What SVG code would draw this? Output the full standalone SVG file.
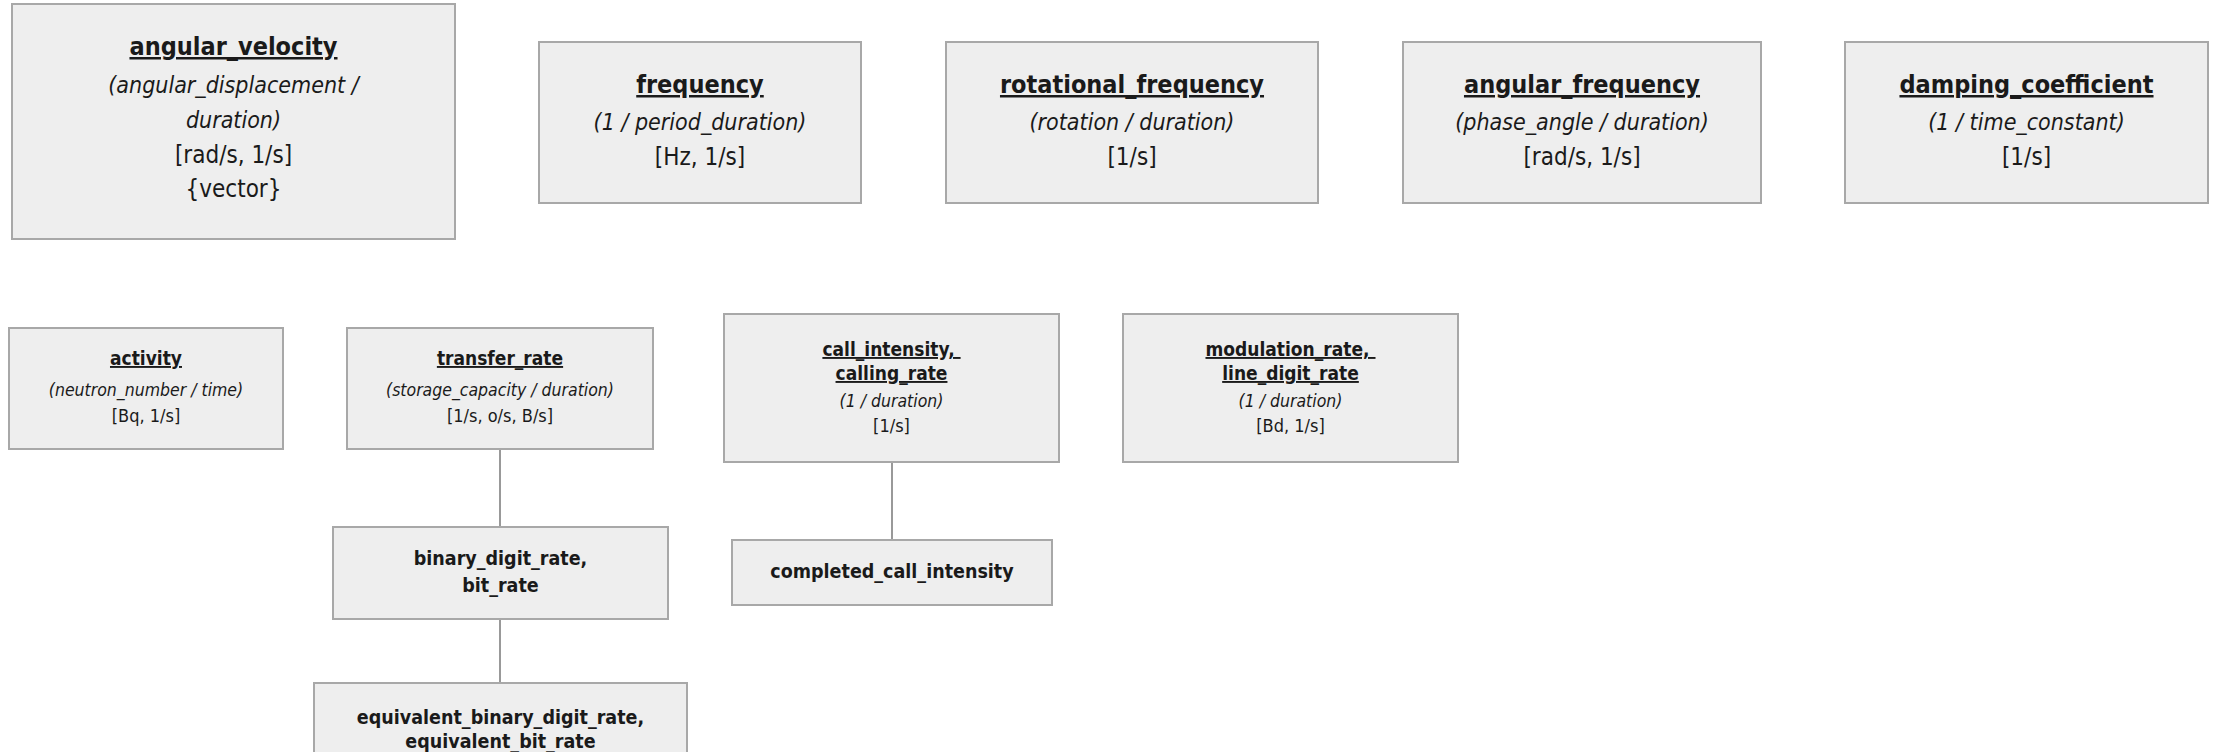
<svg xmlns="http://www.w3.org/2000/svg" width="2222" height="752" viewBox="0 0 2222 752">
  <style>
    .box { fill: #eeeeee; stroke: #a8a8a8; stroke-width: 2; }
    .edge { stroke: #999999; stroke-width: 2; fill: none; }
    text { font-family: "DejaVu Sans Condensed", "DejaVu Sans", sans-serif; fill: #1a1a1a; text-anchor: middle; }
    .t1 { font-size: 25px; font-weight: bold; text-decoration: underline; }
    .i1 { font-size: 23px; font-style: italic; }
    .u1 { font-size: 24px; }
    .t2 { font-size: 19px; font-weight: bold; text-decoration: underline; }
    .i2 { font-size: 17.5px; font-style: italic; }
    .u2 { font-size: 18px; }
    .b2 { font-size: 19.5px; font-weight: bold; }
  </style>
  <rect width="2222" height="752" fill="#ffffff"/>

  <g id="connectors">
    <line class="edge" x1="500" y1="449" x2="500" y2="527"/>
    <line class="edge" x1="500" y1="619" x2="500" y2="683"/>
    <line class="edge" x1="892" y1="462" x2="892" y2="540"/>
  </g>

  <g id="angular_velocity">
    <rect class="box" x="12" y="4" width="443" height="235"/>
    <text class="t1" x="233.5" y="55">angular_velocity</text>
    <text class="i1" x="233.5" y="93">(angular_displacement /</text>
    <text class="i1" x="233.5" y="128">duration)</text>
    <text class="u1" x="233.5" y="163">[rad/s, 1/s]</text>
    <text class="u1" x="233.5" y="197">{vector}</text>
  </g>

  <g id="frequency">
    <rect class="box" x="539" y="42" width="322" height="161"/>
    <text class="t1" x="700" y="93">frequency</text>
    <text class="i1" x="700" y="130">(1 / period_duration)</text>
    <text class="u1" x="700" y="165">[Hz, 1/s]</text>
  </g>

  <g id="rotational_frequency">
    <rect class="box" x="946" y="42" width="372" height="161"/>
    <text class="t1" x="1132" y="93">rotational_frequency</text>
    <text class="i1" x="1132" y="130">(rotation / duration)</text>
    <text class="u1" x="1132" y="165">[1/s]</text>
  </g>

  <g id="angular_frequency">
    <rect class="box" x="1403" y="42" width="358" height="161"/>
    <text class="t1" x="1582" y="93">angular_frequency</text>
    <text class="i1" x="1582" y="130">(phase_angle / duration)</text>
    <text class="u1" x="1582" y="165">[rad/s, 1/s]</text>
  </g>

  <g id="damping_coefficient">
    <rect class="box" x="1845" y="42" width="363" height="161"/>
    <text class="t1" x="2026.5" y="93">damping_coefficient</text>
    <text class="i1" x="2026.5" y="130">(1 / time_constant)</text>
    <text class="u1" x="2026.5" y="165">[1/s]</text>
  </g>

  <g id="activity">
    <rect class="box" x="9" y="328" width="274" height="121"/>
    <text class="t2" x="146" y="365">activity</text>
    <text class="i2" x="146" y="396">(neutron_number / time)</text>
    <text class="u2" x="146" y="422">[Bq, 1/s]</text>
  </g>

  <g id="transfer_rate">
    <rect class="box" x="347" y="328" width="306" height="121"/>
    <text class="t2" x="500" y="365">transfer_rate</text>
    <text class="i2" x="500" y="396">(storage_capacity / duration)</text>
    <text class="u2" x="500" y="422">[1/s, o/s, B/s]</text>
  </g>

  <g id="call_intensity">
    <rect class="box" x="724" y="314" width="335" height="148"/>
    <text class="t2" x="891.5" y="356">call_intensity,&#160;</text>
    <text class="t2" x="891.5" y="380">calling_rate</text>
    <text class="i2" x="891.5" y="407">(1 / duration)</text>
    <text class="u2" x="891.5" y="432">[1/s]</text>
  </g>

  <g id="modulation_rate">
    <rect class="box" x="1123" y="314" width="335" height="148"/>
    <text class="t2" x="1290.5" y="356">modulation_rate,&#160;</text>
    <text class="t2" x="1290.5" y="380">line_digit_rate</text>
    <text class="i2" x="1290.5" y="407">(1 / duration)</text>
    <text class="u2" x="1290.5" y="432">[Bd, 1/s]</text>
  </g>

  <g id="binary_digit_rate">
    <rect class="box" x="333" y="527" width="335" height="92"/>
    <text class="b2" x="500.5" y="565">binary_digit_rate,</text>
    <text class="b2" x="500.5" y="592">bit_rate</text>
  </g>

  <g id="completed_call_intensity">
    <rect class="box" x="732" y="540" width="320" height="65"/>
    <text class="b2" x="892" y="578">completed_call_intensity</text>
  </g>

  <g id="equivalent_binary_digit_rate">
    <rect class="box" x="314" y="683" width="373" height="90"/>
    <text class="b2" x="500.5" y="724">equivalent_binary_digit_rate,</text>
    <text class="b2" x="500.5" y="748">equivalent_bit_rate</text>
  </g>
</svg>
